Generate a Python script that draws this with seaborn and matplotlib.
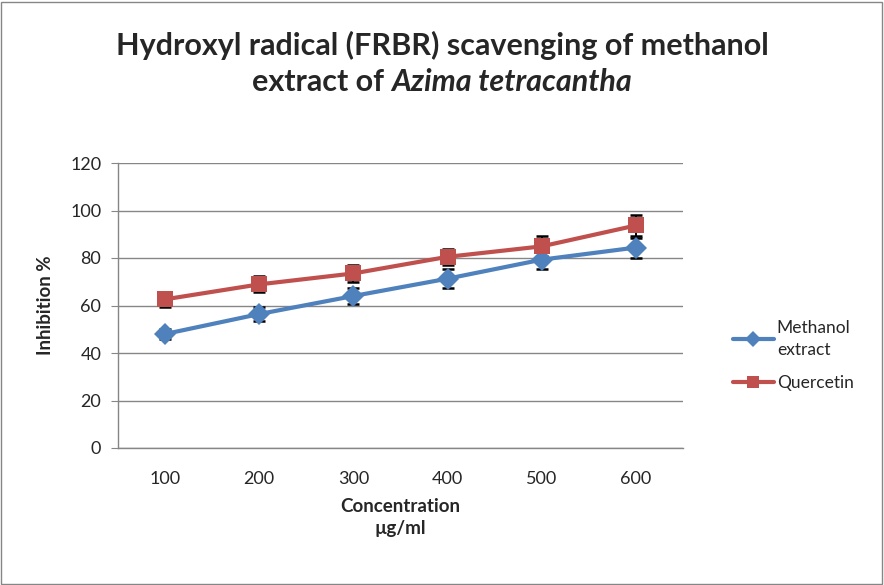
import matplotlib
matplotlib.use("Agg")
import matplotlib.pyplot as plt
import seaborn as sns
import pandas as pd
from matplotlib.patches import Rectangle

# data
concentration = [100, 200, 300, 400, 500, 600]
methanol = [48.0, 56.4, 64.0, 71.3, 79.3, 84.4]
methanol_err = [2.0, 3.0, 3.3, 3.9, 3.8, 4.2]
quercetin = [62.6, 68.9, 73.5, 80.5, 84.9, 93.7]
quercetin_err = [3.2, 3.4, 3.6, 3.3, 4.2, 4.6]
series_names = ["Methanol\nextract", "Quercetin"]
colors = ["#4F81BD", "#C0504D"]

sns.set_style("white")
plt.rcParams["font.family"] = ["Lato", "DejaVu Sans"]

df = pd.DataFrame({
    "conc": concentration * 2,
    "val": methanol + quercetin,
    "series": [series_names[0]] * 6 + [series_names[1]] * 6,
})

fig = plt.figure(figsize=(8.84, 5.85), dpi=100)
ax = fig.add_axes([118 / 884, 1 - 448 / 585, 565 / 884, 285 / 585])

sns.lineplot(data=df, x="conc", y="val", hue="series", style="series",
             markers=["D", "s"], dashes=False, palette=colors,
             linewidth=3, markersize=11, markeredgewidth=0, ax=ax, zorder=3)

# error bars sit behind the markers, as in the original
for vals, errs in [(methanol, methanol_err), (quercetin, quercetin_err)]:
    ax.errorbar(concentration, vals, yerr=errs, fmt="none", ecolor="black",
                elinewidth=1.4, capsize=4, capthick=1.8, zorder=2.5)

ax.set_xlim(50, 650)
ax.set_ylim(0, 120)
ax.set_xticks(concentration)
ax.set_yticks(range(0, 121, 20))
ax.yaxis.grid(True, color="#868686", linewidth=1)
ax.set_axisbelow(True)
for side in ["top", "right"]:
    ax.spines[side].set_visible(False)
for side in ["left", "bottom"]:
    ax.spines[side].set_color("#868686")
    ax.spines[side].set_linewidth(1)
ax.tick_params(axis="y", which="both", left=True, length=5, color="#868686",
               labelsize=13, pad=7)
ax.tick_params(axis="x", bottom=False, labelsize=13, pad=13)
ax.set_xlabel("Concentration\nµg/ml", fontsize=13.5, fontweight="bold",
              labelpad=8, linespacing=1.35)
ax.set_ylabel("Inhibition %", fontsize=13.5, fontweight="bold", labelpad=12)

handles, labels = ax.get_legend_handles_labels()
leg = ax.legend(handles, labels, loc="center left",
                bbox_to_anchor=(1.06, 0.325), frameon=False, fontsize=12.5,
                handlelength=2.4, handletextpad=0.15, labelspacing=1.0,
                markerscale=0.75)
for txt in leg.get_texts():
    txt.set_linespacing(1.45)

# title with italic species name on second line
fig.text(0.5, 1 - 45 / 585, "Hydroxyl radical (FRBR) scavenging of methanol",
         ha="center", va="center", fontsize=22, fontweight="bold")
t1 = fig.text(0, 1 - 82 / 585, "extract of ", ha="left", va="center",
              fontsize=22, fontweight="bold")
t2 = fig.text(0, 1 - 82 / 585, "Azima tetracantha", ha="left", va="center",
              fontsize=22, fontweight="bold", style="italic")
fig.canvas.draw()
r = fig.canvas.get_renderer()
w1 = t1.get_window_extent(r).width
w2 = t2.get_window_extent(r).width
x0 = (884 - w1 - w2) / 2
t1.set_x(x0 / 884)
t2.set_x((x0 + w1) / 884)

fig.patches.append(Rectangle((1 / 884, 1 / 585), 881 / 884, 582 / 585,
                             transform=fig.transFigure, fill=False,
                             edgecolor="#868686", linewidth=1))

fig.savefig("out.png", dpi=100)
